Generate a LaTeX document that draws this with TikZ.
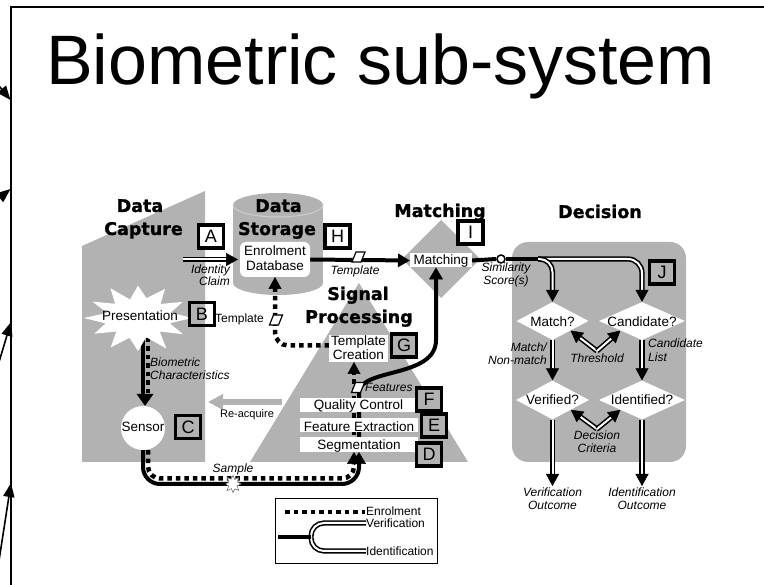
\documentclass[tikz,border=0pt]{standalone}
\usepackage{fontspec}
\setmainfont{Liberation Sans}
\newfontfamily\heavyfont{DejaVu Sans}[BoldFeatures={FakeBold=1.2}]
\usetikzlibrary{shapes.geometric, arrows.meta, calc}
\pgfdeclarelayer{back}
\pgfdeclarelayer{mid}
\pgfsetlayers{back,mid,main}
\tikzset{para/.pic={\draw[fill=white, line width=1.2pt] (-6.5,5) -- (2.5,5) -- (6.5,-5) -- (-2.5,-5) -- cycle;}}
\begin{document}
\begin{tikzpicture}[x=1pt, y=-1pt,
  gry/.style={fill=black!30},
  wbox/.style={fill=white, inner sep=0pt, outer sep=0pt},
  lbox/.style={draw=black, line width=3.2pt, minimum width=25pt, minimum height=23pt, inner sep=0pt, font=\fontsize{18}{18}\selectfont},
  heavyt/.style={font=\heavyfont\bfseries\fontsize{17.5}{18}\selectfont, inner sep=0pt, anchor=base},
  lab/.style={font=\fontsize{13.5}{14}\selectfont, inner sep=0pt, anchor=base},
  ital/.style={font=\itshape\fontsize{12}{12}\selectfont, inner sep=0pt, anchor=base},
  solidp/.style={line width=4pt, black},
  enrp/.style={line width=4.5pt, dash pattern=on 4.5pt off 4pt, black},
  vline/.style={line width=1.6pt, double=white, double distance=2pt},
  tipA/.style={-{Triangle[length=12pt,width=13pt]}, line width=0.5pt},
  tipB/.style={-{Triangle[length=12pt,width=14pt]}, line width=0.5pt},
]
\useasboundingbox (0,0) rectangle (764,585);

% frame and arrows from outside
\draw[line width=2pt] (10.5,585) -- (10.5,7.5) -- (764,7.5);
\coordinate (la1s) at (-14,70);  \coordinate (la1e) at (10.5,100);
\coordinate (la2s) at (-18,212); \coordinate (la2e) at (10.5,189);
\coordinate (la3s) at (-4,372);  \coordinate (la3e) at (11,322);
\coordinate (la4s) at (-4,580);  \coordinate (la4e) at (11,483);
\foreach \s/\e in {la1s/la1e, la2s/la2e, la3s/la3e, la4s/la4e}
  \draw[line width=1.6pt, -{Triangle[length=14pt,width=11pt]}] (\s) -- (\e);

% title
\node[anchor=base west, inner sep=0pt, font=\fontsize{70}{72}\selectfont] (title) at (46,85) {Biometric sub-system};

% gray regions
\begin{pgfonlayer}{back}
\fill[gry] (82,246) -- (205,191) -- (205,462) -- (82,462) -- cycle;
\fill[gry] (250,462) -- (359,283) -- (468,462) -- cycle;
\fill[gry] (441,220) -- (480,259) -- (441,298) -- (402,259) -- cycle;
\fill[gry, rounded corners=16pt] (512,242) rectangle (686,462);
\fill[gry] (233,205) rectangle (323,283);
\fill[gry] (278,205) ellipse [x radius=45, y radius=12];
\fill[gry] (278,283) ellipse [x radius=45, y radius=12];
\draw[black!20, line width=1pt] (233,205) arc[start angle=180, end angle=0, x radius=45, y radius=12];
\end{pgfonlayer}

% white boxes and shapes
\node[wbox, rounded corners=6pt, minimum width=70pt, minimum height=35pt] (db) at (275,259.5) {};
\node[wbox, minimum width=62pt, minimum height=14pt] (mbox) at (441,260.5) {};
\node[wbox, minimum width=59pt, minimum height=27pt] (tc) at (358.5,348.5) {};
\node[wbox, minimum width=116pt, minimum height=14pt] (qc) at (358,405) {};
\node[wbox, minimum width=118pt, minimum height=14pt] (fe) at (359,425) {};
\node[wbox, minimum width=118pt, minimum height=15pt] (sg) at (359,444.5) {};
\node[circle, fill=white, minimum size=44pt, inner sep=0pt] (sensor) at (143,428) {};
\node[diamond, fill=white, minimum width=72pt, minimum height=38pt, inner sep=0pt] (mq) at (552.5,321) {};
\node[diamond, fill=white, minimum width=86pt, minimum height=38pt, inner sep=0pt] (cq) at (642,321) {};
\node[diamond, fill=white, minimum width=73pt, minimum height=39pt, inner sep=0pt] (vq) at (552.5,400) {};
\node[diamond, fill=white, minimum width=86pt, minimum height=39pt, inner sep=0pt] (iq) at (642,400) {};
\node[circle, draw, fill=white, line width=1.5pt, minimum size=8pt, inner sep=0pt] (sc) at (501,259) {};

% presentation star
\fill[white] (192,318) \foreach \a/\r in {15/0.62, 30/0.98, 45/0.58, 60/1.07, 75/0.6, 90/1.0, 105/0.62, 120/1.03, 135/0.58, 150/0.95, 165/0.63, 180/1.02, 195/0.6, 210/0.99, 225/0.61, 240/1.04, 255/0.58, 270/0.98, 285/0.62, 300/1.02, 315/0.6, 330/0.97, 345/0.64} { -- ({138+53*\r*cos(\a)},{318+33*\r*sin(\a)}) } -- cycle;
\coordinate (presS) at (143,338);
\coordinate (presD) at (148,338);

% connectors
\begin{pgfonlayer}{mid}
\coordinate (icS) at (183,259.5);
\draw[vline] (icS) -- ($(db.west)+(-12,0)$);
\draw[tipA] ($(db.west)+(-14,0)$) -- ($(db.west)+(-2,0)$);
\draw[solidp, -{Triangle[length=12pt,width=13pt]}] (db.east) -- (mbox.west);
\draw[solidp] (mbox.east) -- (sc.west);
\coordinate (split) at (538,259);
\draw[solidp] (sc.east) -- (split);
\draw[vline, rounded corners=14pt] (split) -- (split -| cq.north) -- ($(cq.north)+(0,-10)$);
\draw[tipA] ($(cq.north)+(0,-12)$) -- (cq.north);
\draw[vline, rounded corners=13pt] (split) -- (split -| mq.north) -- ($(mq.north)+(0,-10)$);
\draw[tipA] ($(mq.north)+(0,-12)$) -- (mq.north);
\draw[vline] (mq.south) -- ($(vq.north)+(0,-10)$);
\draw[tipA] ($(vq.north)+(0,-12)$) -- (vq.north);
\draw[vline] (cq.south) -- ($(iq.north)+(0,-10)$);
\draw[tipA] ($(iq.north)+(0,-12)$) -- (iq.north);
\coordinate (thr) at (597,351);
\draw[vline] (thr) -- ($(mq.south east)!10pt!(thr)$);
\draw[tipA] ($(mq.south east)!12pt!(thr)$) -- (mq.south east);
\draw[vline] (thr) -- ($(cq.south west)!10pt!(thr)$);
\draw[tipA] ($(cq.south west)!12pt!(thr)$) -- (cq.south west);
\coordinate (dcr) at (597,429);
\draw[vline] (dcr) -- ($(vq.south east)!10pt!(dcr)$);
\draw[tipA] ($(vq.south east)!12pt!(dcr)$) -- (vq.south east);
\draw[vline] (dcr) -- ($(iq.south west)!10pt!(dcr)$);
\draw[tipA] ($(iq.south west)!12pt!(dcr)$) -- (iq.south west);
\coordinate (vout) at (552.5,486);
\coordinate (iout) at (642,486);
\draw[vline] (vq.south) -- ($(vout)+(0,-10)$);
\draw[tipA] ($(vout)+(0,-12)$) -- (vout);
\draw[vline] (iq.south) -- ($(iout)+(0,-10)$);
\draw[tipA] ($(iout)+(0,-12)$) -- (iout);
\draw[enrp] (presD) -- ($(sensor.north)+(5,-10)$);
\draw[solidp] (presS) -- ($(sensor.north)+(0,-10)$);
\draw[-{Triangle[length=12pt,width=17pt]}, line width=0.5pt] ($(sensor.north)+(2,-12)$) -- ($(sensor.north)+(2,0)$);
\draw[solidp, rounded corners=17pt] (sensor.south) -- (143,484) -- (359,484) -- ($(sg.south)+(0,10)$);
\draw[enrp, rounded corners=12pt] ($(sensor.south)+(5,0)$) -- (148,478.5) -- (354,478.5) -- ($(sg.south)+(-5,10)$);
\draw[tipB] ($(sg.south)+(0,12)$) -- (sg.south);
\draw[tipB] ($(sg.south)+(-5,12)$) -- ($(sg.south)+(-5,0)$);
\draw[solidp] (sg.south) -- (359,392) .. controls (361,368) and (436,378) .. (436,340) -- ($(mbox.south)+(-5,10)$);
\draw[tipB] ($(mbox.south)+(-5,12)$) -- ($(mbox.south)+(-5,0)$);
\draw[enrp] ($(sg.south)+(-5,0)$) -- ($(tc.south)+(-4.5,10)$);
\draw[tipA] ($(tc.south)+(-4.5,12)$) -- ($(tc.south)+(-4.5,0)$);
\draw[enrp, rounded corners=13pt] ($(tc.west)+(0,-3)$) -| ($(db.south)+(0,10)$);
\draw[tipA] ($(db.south)+(0,12)$) -- (db.south);
\coordinate (raS) at (282,402);
\coordinate (raE) at (208,402);
\draw[black!30, line width=6pt, -{Triangle[length=15pt,width=15pt]}] (raS) -- (raE);
\end{pgfonlayer}

% sample blob
\filldraw[fill=white, draw=black!55, line width=0.6pt] (241,484) \foreach \a/\r in {22/0.55, 45/1.0, 67/0.6, 90/0.95, 112/0.55, 135/1.05, 157/0.6, 180/0.9, 202/0.55, 225/1.0, 247/0.6, 270/0.95, 292/0.55, 315/1.0, 337/0.6} { -- ({233+8*\r*cos(\a)},{484+9*\r*sin(\a)}) } -- cycle;

% parallelograms
\pic at (358.5,257) {para};
\pic at (276,320) {para};
\pic at (358,387.5) {para};

% headings
\node[heavyt] (capa) at (140,212) {Data};
\node[heavyt] (capb) at (143.5,235) {Capture};
\node[heavyt] (sta) at (278.5,212) {Data};
\node[heavyt] (stb) at (277,235) {Storage};
\node[heavyt] (mat) at (440,217) {Matching};
\node[heavyt] (sga) at (358,300) {Signal};
\node[heavyt] (sgb) at (359,323) {Processing};
\node[heavyt] (dect) at (600,218) {Decision};

% regular labels
\node[lab] (dbt1) at (275,256) {Enrolment};
\node[lab] (dbt2) at (275,271) {Database};
\node[lab] (prest) at (140,321) {Presentation};
\node[lab] (senst) at (143,432) {Sensor};
\node[lab] (matt) at (441,265) {Matching};
\node[lab] (tct1) at (358.5,346) {Template};
\node[lab] (tct2) at (358.5,360) {Creation};
\node[lab] (qct) at (358.5,410) {Quality Control};
\node[lab] (fet) at (359,432) {Feature Extraction};
\node[lab] (sgt) at (359,450) {Segmentation};
\node[lab] (mqt) at (552.5,327) {Match?};
\node[lab] (cqt) at (642,327) {Candidate?};
\node[lab] (vqt) at (552.5,405) {Verified?};
\node[lab] (iqt) at (642,405) {Identified?};
\node[anchor=base, inner sep=0pt, font=\fontsize{11}{11}\selectfont] (rat) at (247,418) {Re-acquire};
\node[anchor=base west, inner sep=0pt, font=\fontsize{12}{12}\selectfont] (tmpl2) at (215,323) {Template};

% italic labels
\node[ital, anchor=base east] (idc1) at (230,274) {Identity};
\node[ital, anchor=base east] (idc2) at (230,286) {Claim};
\node[ital] (tmplt) at (355,275) {Template};
\node[ital] (sim1) at (506,272) {Similarity};
\node[ital] (sim2) at (506,285) {Score(s)};
\node[ital, anchor=base west] (feat) at (365,392) {Features};
\node[ital, anchor=base west] (bio1) at (150,367) {Biometric};
\node[ital, anchor=base west] (bio2) at (150,380) {Characteristics};
\node[ital] (samp) at (233,473) {Sample};
\node[ital, anchor=base east] (mn1) at (547,352) {Match/};
\node[ital, anchor=base east] (mn2) at (547,365) {Non-match};
\node[ital] (thrt) at (597,363) {Threshold};
\node[ital, anchor=base west] (cl1) at (648,348) {Candidate};
\node[ital, anchor=base west] (cl2) at (648,362) {List};
\node[ital] (dc1) at (597,440) {Decision};
\node[ital] (dc2) at (597,453) {Criteria};
\node[ital] (vo1) at (552.5,497) {Verification};
\node[ital] (vo2) at (552.5,510) {Outcome};
\node[ital] (io1) at (642,497) {Identification};
\node[ital] (io2) at (642,510) {Outcome};

% letter boxes
\node[lbox, fill=white] (bA) at (211,236.5) {A};
\node[lbox] (bB) at (202,314) {B};
\node[lbox, fill=black!30] (bC) at (188,427) {C};
\node[lbox, fill=black!30] (bD) at (429,454.5) {D};
\node[lbox, fill=black!30] (bE) at (434,425.5) {E};
\node[lbox, fill=black!30] (bF) at (429,399.5) {F};
\node[lbox, fill=black!30] (bG) at (404,345.5) {G};
\node[lbox, fill=white] (bH) at (337.5,236.5) {H};
\node[lbox, fill=white] (bI) at (470.5,232.5) {I};
\node[lbox, fill=black!30] (bJ) at (662,272.5) {J};

% legend
\node[draw, line width=0.8pt, minimum width=162pt, minimum height=65pt, inner sep=0pt] (leg) at (356,530.5) {};
\coordinate (le1) at (285,512); \coordinate (le2) at (365,512);
\draw[enrp] (le1) -- (le2);
\coordinate (ls1) at (278,537.5); \coordinate (ls2) at (311,537.5);
\coordinate (lv) at (366,523); \coordinate (li) at (366,551);
\draw[vline, rounded corners=13pt] (ls2) |- (lv);
\draw[vline, rounded corners=13pt] (ls2) |- (li);
\draw[solidp] (ls1) -- (ls2);
\node[anchor=base west, inner sep=0pt, font=\fontsize{12}{12}\selectfont] (let) at (366,516) {Enrolment};
\node[anchor=base west, inner sep=0pt, font=\fontsize{12}{12}\selectfont] (lvt) at (366,528) {Verification};
\node[anchor=base west, inner sep=0pt, font=\fontsize{12}{12}\selectfont] (lit) at (366,555) {Identification};
\end{tikzpicture}
\end{document}
